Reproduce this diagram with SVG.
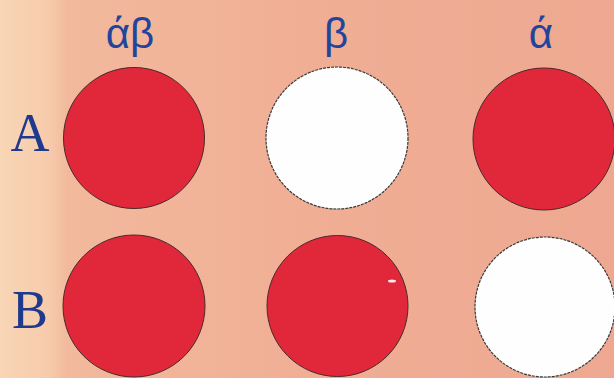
<svg xmlns="http://www.w3.org/2000/svg" width="614" height="378" viewBox="0 0 614 378">
  <defs>
    <linearGradient id="bg" x1="0" y1="0" x2="1" y2="0">
      <stop offset="0" stop-color="#f8d6b6"/>
      <stop offset="0.08" stop-color="#f6cbab"/>
      <stop offset="0.11" stop-color="#f2b99d"/>
      <stop offset="0.5" stop-color="#f0ae95"/>
      <stop offset="1" stop-color="#eea891"/>
    </linearGradient>
  </defs>
  <style>
    .red { fill: #e1283b; stroke: #4a2a2a; stroke-width: 1; }
    .white { fill: #fefefe; stroke: #3a3a3a; stroke-width: 1.2; stroke-dasharray: 3 1; }
    .greek { font-family: "Liberation Sans", Arial, sans-serif; font-size: 42px; fill: #23449c; text-anchor: middle; }
    .row { font-family: "Liberation Serif", "Times New Roman", serif; font-size: 54px; fill: #1f3a8c; text-anchor: middle; }
  </style>
  <rect x="0" y="0" width="614" height="378" fill="url(#bg)"/>

  <g id="col-labels">
    <text class="greek" x="130" y="48">άβ</text>
    <text class="greek" x="336" y="48">β</text>
    <text class="greek" x="541" y="48">ά</text>
  </g>
  <g id="row-labels">
    <text class="row" x="30" y="151">A</text>
    <text class="row" x="30" y="328">B</text>
  </g>

  <g id="A-ab"><circle class="red" cx="134" cy="138" r="70.5"/></g>
  <g id="A-b"><circle class="white" cx="337" cy="138" r="71"/></g>
  <g id="A-a"><circle class="red" cx="544" cy="139" r="71"/></g>

  <g id="B-ab"><circle class="red" cx="134" cy="306" r="71"/></g>
  <g id="B-b"><circle class="red" cx="337.5" cy="306" r="70.5"/><ellipse cx="392" cy="281" rx="4" ry="1.5" fill="#fbeaea"/></g>
  <g id="B-a"><circle class="white" cx="545" cy="307" r="70"/></g>
</svg>
